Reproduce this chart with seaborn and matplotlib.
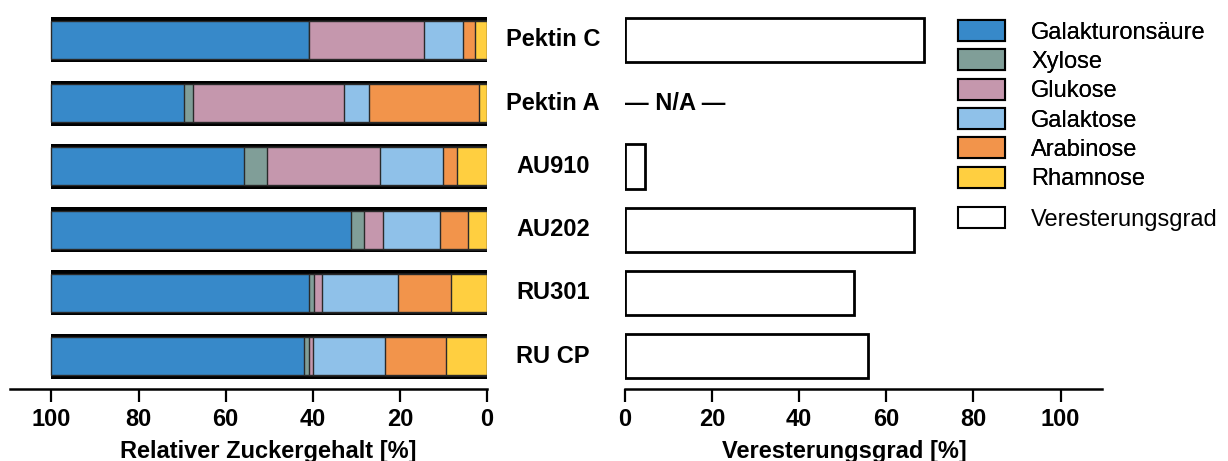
import numpy as np
import pandas as pd
import matplotlib
matplotlib.use("Agg")
import matplotlib.pyplot as plt
import matplotlib.transforms as mtransforms
from matplotlib.patches import Patch
import seaborn as sns

# ---------------- data ----------------
samples = ["Pektin C", "Pektin A", "AU910", "AU202", "RU301", "RU CP"]
sugars = ["Galakturonsäure", "Xylose", "Glukose", "Galaktose", "Arabinose", "Rhamnose"]
galakturonsaeure = [59.2, 30.4, 44.2, 68.7, 59.2, 58.0]
xylose = [0.0, 2.0, 5.2, 3.0, 1.2, 1.1]
glukose = [26.4, 34.8, 26.0, 4.4, 1.7, 0.9]
galaktose = [8.8, 5.8, 14.5, 13.0, 17.4, 16.5]
arabinose = [2.8, 25.1, 3.1, 6.5, 12.2, 14.2]
rhamnose = [2.8, 1.9, 7.0, 4.4, 8.3, 9.3]
veresterungsgrad = [68.6, np.nan, 4.6, 66.4, 52.6, 55.7]
ticks = [0, 20, 40, 60, 80, 100]

colors = ["#3789C9", "#809E98", "#C597AD", "#8FC1E9", "#F2944B", "#FFCF40"]

# ---------------- style ----------------
sns.set_theme(style="white")
plt.rcParams["font.family"] = ["Liberation Sans", "DejaVu Sans"]
plt.rcParams["text.color"] = "black"
plt.rcParams["axes.labelcolor"] = "black"
plt.rcParams["xtick.color"] = "black"
plt.rcParams["xtick.labelcolor"] = "black"

W, H = 1228, 461
fig = plt.figure(figsize=(W / 100, H / 100), dpi=100)

ax_top, ax_bot = 2, 389
ax1 = fig.add_axes([10 / W, 1 - ax_bot / H, 477 / W, (ax_bot - ax_top) / H])
ax2 = fig.add_axes([625 / W, 1 - ax_bot / H, 477 / W, (ax_bot - ax_top) / H])

series = [galakturonsaeure, xylose, glukose, galaktose, arabinose, rhamnose]
df = pd.DataFrame({"sample": samples})
for name, vals in zip(sugars, series):
    df[name] = vals

# black band behind each stacked bar
total = df[sugars].sum(axis=1)
sns.barplot(x=total, y=df["sample"], order=samples, orient="h", color="black",
            saturation=1, width=0.71, linewidth=0, ax=ax1)
# stacked segments (stacked from 0 on the right, drawn largest cumulative first)
for i, (name, col) in enumerate(zip(sugars, colors)):
    cum = df[sugars[i:]].sum(axis=1)
    sns.barplot(x=cum, y=df["sample"], order=samples, orient="h", color=col,
                saturation=1, width=0.6, edgecolor="#2a2a2a", linewidth=1.0, ax=ax1)

sns.barplot(x=veresterungsgrad, y=samples, order=samples, orient="h", color="white",
            saturation=1, width=0.7, edgecolor="black", linewidth=2.0, ax=ax2)

for ax in (ax1, ax2):
    ax.set_ylim(5.52, -0.6)
    ax.set_yticks([])
    ax.set_ylabel("")
    ax.set_xlabel("")
    for s in ("top", "right", "left"):
        ax.spines[s].set_visible(False)
    ax.spines["bottom"].set_linewidth(1.8)
    ax.spines["bottom"].set_color("black")
    ax.set_xticks(ticks)
    ax.set_xticklabels([str(t) for t in ticks], fontweight="bold", fontsize=17,
                       color="black")
    ax.tick_params(axis="x", direction="out", length=9, width=1.6, color="black",
                   pad=5, bottom=True, labelcolor="black")
    ax.set_facecolor("none")

ax1.set_xlim(109.5, 0)
ax2.set_xlim(0, 109.5)

# category labels between the panels
tr = mtransforms.blended_transform_factory(fig.transFigure, ax1.transData)
for i, s in enumerate(samples):
    ax1.text(553 / W, i, s, transform=tr, ha="center", va="center",
             fontsize=17, fontweight="bold", color="black", clip_on=False)

ax2.text(0, 1, "— N/A —", ha="left", va="center", fontsize=17, fontweight="bold",
         color="black")

# axis labels
fig.text(268 / W, 3 / H, "Relativer Zuckergehalt [%]", ha="center", va="baseline",
         fontsize=17, fontweight="bold", color="black")
fig.text(844 / W, 3 / H, "Veresterungsgrad [%]", ha="center", va="baseline",
         fontsize=17, fontweight="bold", color="black")

# legends
handles = [Patch(facecolor=c, edgecolor="black", linewidth=1.5) for c in colors]
leg1 = fig.legend(handles, sugars, loc="upper left", bbox_to_anchor=(958 / W, 1 - 20 / H),
                  frameon=False, fontsize=17, handlelength=2.0, handleheight=1.0,
                  handletextpad=1.1, labelspacing=0.24, borderpad=0, borderaxespad=0,
                  labelcolor="black")
leg2 = fig.legend([Patch(facecolor="white", edgecolor="black", linewidth=1.5)],
                  ["Veresterungsgrad"], loc="upper left",
                  bbox_to_anchor=(958 / W, 1 - 207 / H), frameon=False, fontsize=17,
                  handlelength=2.0, handleheight=1.0, handletextpad=1.1,
                  borderpad=0, borderaxespad=0, labelcolor="black")
fig.add_artist(leg1)

fig.savefig("out.png", dpi=100)
